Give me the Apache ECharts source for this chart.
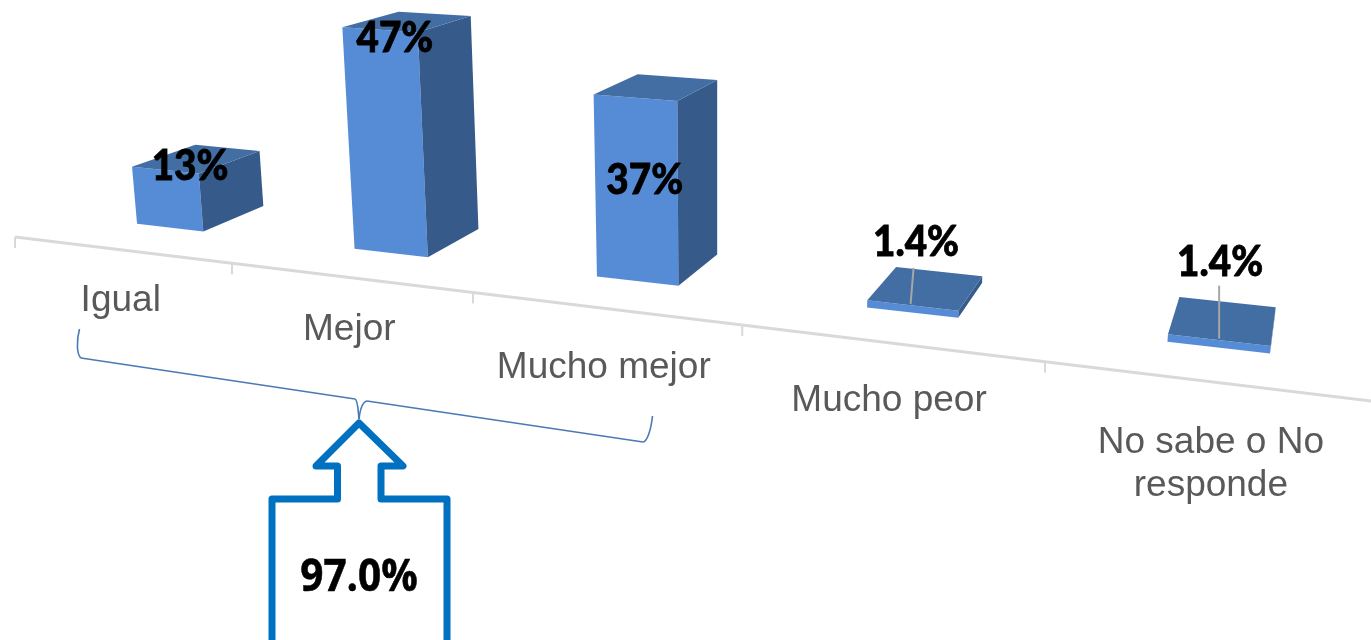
<!DOCTYPE html>
<html><head><meta charset="utf-8">
<script src="https://cdn.jsdelivr.net/npm/echarts@6/dist/echarts.min.js"></script>
<style>html,body{margin:0;padding:0;background:#fff}#c{width:1371px;height:640px}</style>
</head><body><div id="c"></div>
<script>
// --- data ---
const categories = ['Igual', 'Mejor', 'Mucho mejor', 'Mucho peor', 'No sabe o No\nresponde'];
const values = [13, 47, 37, 1.4, 1.4];
const valueLabels = ['13%', '47%', '37%', '1.4%', '1.4%'];
const totalLabel = '97.0%';

// --- layout of text around the marks (px) ---
const labelNudgeX = [-7, -13, -12, -10, -3];
const labelNudgeY = [8, 17, 93, -46, -58];
const categoryDrop = [51, 52, 60, 58, 61];
const barNudge = [-0.018, -0.016, -0.008, 0, 0];   // small shift of a bar inside its band
const leaderLength = [0, 0, 0, 36, 53];
const leaderLean = [0, 0, 0, 3, 0];
const leaderShift = [0, 0, 0, -0.01, 0];

// --- perspective camera: the flat ECharts grid is projected through a homography ---
const GRID = 500;
const O = [15, 237, 1];                        // where the axis starts
const U = [205.45, 13.15, -0.0498];            // along the category axis
const V = [-0.0487, -0.4625, -0.000068];       // up, per flat pixel
const W = [134.8, -25.4, 0.1];                 // into depth
const project = (u, h, w) => {
  const q = [0, 1, 2].map(k => O[k] + U[k] * u + V[k] * h + W[k] * w);
  return [q[0] / q[2], q[1] / q[2]];
};
const HALF = 0.158, W0 = 0.44, W1 = 1.0;
const FRONT = '#568cd6', SIDE = '#365b8a', TOP = '#426ea3';

function renderBar(params, api) {
  const i = api.value(0);
  const base = api.coord([i, 0]), top = api.coord([i, api.value(1)]);
  const band = api.size([1, 0])[0];
  const um = base[0] / band, uc = um + barNudge[i], h = base[1] - top[1];
  const uL = uc - HALF, uR = uc + HALF;
  const ch = [];
  // axis segment, tick
  const a0 = project(i, 0, 0), a1 = project(i + 1, 0, 0);
  ch.push({ type: 'line', shape: { x1: a0[0], y1: a0[1], x2: a1[0], y2: a1[1] }, style: { stroke: '#d9d9d9', lineWidth: 3 } });
  ch.push({ type: 'line', shape: { x1: a0[0], y1: a0[1], x2: a0[0], y2: a0[1] + 11 }, style: { stroke: '#d9d9d9', lineWidth: 2 } });
  // faces
  const fbl = project(uL, 0, W0), fbr = project(uR, 0, W0), ftl = project(uL, h, W0), ftr = project(uR, h, W0);
  const bbr = project(uR, 0, W1), btr = project(uR, h, W1), btl = project(uL, h, W1);
  ch.push({ type: 'polygon', shape: { points: [fbl, fbr, ftr, ftl] }, style: { fill: FRONT } });
  ch.push({ type: 'polygon', shape: { points: [fbr, bbr, btr, ftr] }, style: { fill: SIDE } });
  ch.push({ type: 'polygon', shape: { points: [ftl, ftr, btr, btl] }, style: { fill: TOP } });
  // leader
  if (leaderLength[i]) {
    const l0 = project(uc + leaderShift[i], h, W0 + 0.02);
    ch.push({ type: 'line', shape: { x1: l0[0], y1: l0[1], x2: l0[0] + leaderLean[i], y2: l0[1] - leaderLength[i] }, style: { stroke: '#a6a6a6', lineWidth: 2 } });
  }
  // value label
  const c = project(uc, h, (W0 + W1) / 2);
  ch.push({ type: 'text', x: c[0] + labelNudgeX[i], y: c[1] + labelNudgeY[i], scaleX: 0.92, style: { text: valueLabels[i], x: 0, y: 0,
    font: '900 42px Lato', fill: '#000', stroke: '#000', lineWidth: 0.8, align: 'center', verticalAlign: 'middle' } });
  // category label
  const m = project(um, 0, 0);
  const two = categories[i].indexOf('\n') >= 0;
  ch.push({ type: 'text', style: { text: categories[i], x: m[0], y: m[1] + categoryDrop[i] + (two ? 21.5 : 0),
    font: '37px "Liberation Sans"', lineHeight: 43, fill: '#595959', align: 'center', verticalAlign: 'middle' } });
  return { type: 'group', children: ch };
}

const braceStyle = { fill: null, stroke: '#4a7ab5', lineWidth: 1.6 };
const chart = echarts.init(document.getElementById('c'), null, { renderer: 'canvas' });
chart.setOption({
  animation: false,
  grid: { left: 0, top: 0, width: GRID, height: GRID },
  xAxis: { type: 'category', data: categories, show: false },
  yAxis: { type: 'value', min: 0, max: 50, show: false },
  series: [{
    type: 'custom', clip: false, coordinateSystem: 'cartesian2d',
    data: values.map((v, i) => [i, v]),
    encode: { x: 0, y: 1 },
    renderItem: renderBar
  }],
  graphic: [
    { type: 'bezierCurve', shape: { x1: 79.5, y1: 329, cpx1: 76, cpy1: 342, cpx2: 77, cpy2: 355, x2: 81, y2: 358 }, style: braceStyle, z: 5 },
    { type: 'line', shape: { x1: 81, y1: 358, x2: 355, y2: 399 }, style: braceStyle, z: 5 },
    { type: 'bezierCurve', shape: { x1: 355, y1: 399, cpx1: 358, cpy1: 400, cpx2: 358, cpy2: 410, x2: 359, y2: 419 }, style: braceStyle, z: 5 },
    { type: 'bezierCurve', shape: { x1: 359, y1: 419, cpx1: 360, cpy1: 410, cpx2: 362, cpy2: 402, x2: 367, y2: 401 }, style: braceStyle, z: 5 },
    { type: 'line', shape: { x1: 367, y1: 401, x2: 643, y2: 442 }, style: braceStyle, z: 5 },
    { type: 'bezierCurve', shape: { x1: 643, y1: 442, cpx1: 647, cpy1: 442, cpx2: 651, cpy2: 430, x2: 652.5, y2: 416 }, style: braceStyle, z: 5 },
    { type: 'polyline', shape: { points: [[272, 660], [272, 499], [337.5, 499], [337.5, 466], [316, 466], [359, 423], [403, 466], [381, 466], [381, 499], [447, 499], [447, 660], [272, 660]] },
      style: { fill: null, stroke: '#0070c0', lineWidth: 7, lineJoin: 'round' }, z: 6 },
    { type: 'text', x: 359, y: 578, scaleX: 0.9, style: { text: totalLabel, x: 0, y: 0, font: '700 45px "Open Sans"', fill: '#000', stroke: '#000', lineWidth: 0.6, align: 'center', verticalAlign: 'middle' }, z: 7 }
  ]
});
</script></body></html>
